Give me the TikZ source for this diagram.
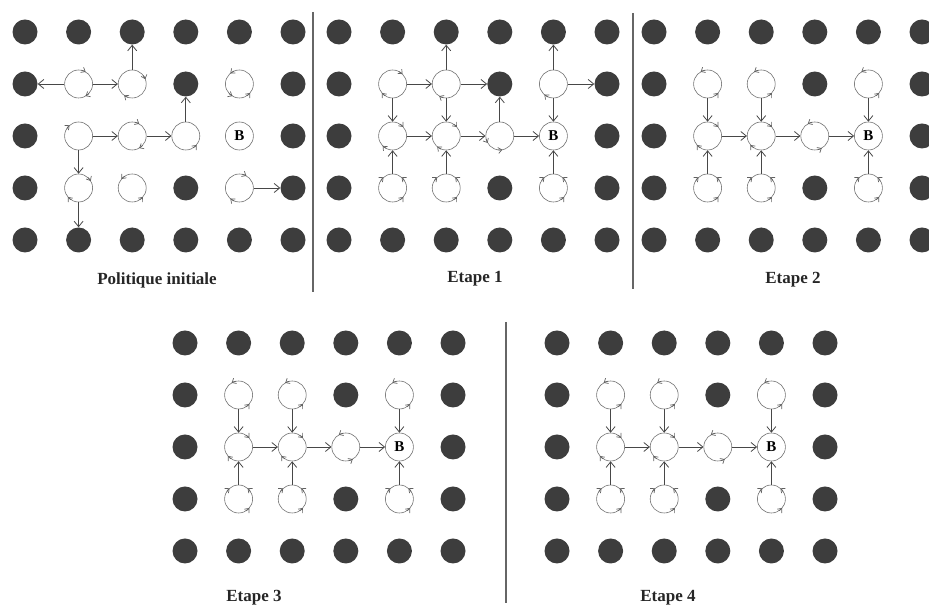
\documentclass[tikz,border=0pt]{standalone}
\usepackage{fontspec}
\setmainfont{Liberation Serif}
\usetikzlibrary{arrows.meta,positioning}

% one 6x5 grid: walls and free states, named <panel>-<col>-<row>
\newcommand{\grille}[3]{%
  \foreach \c/\r in {0/0,1/0,2/0,3/0,4/0,5/0,0/1,3/1,5/1,0/2,5/2,0/3,3/3,5/3,0/4,1/4,2/4,3/4,4/4,5/4}
    \node[mur] (#1-\c-\r) at ({#2+53.6*\c},{#3-52*\r}) {};
  \foreach \c/\r in {1/1,2/1,4/1,1/2,2/2,3/2,1/3,2/3,4/3}
    \node[etat] (#1-\c-\r) at ({#2+53.6*\c},{#3-52*\r}) {};
  \node[etat,font=\bfseries\fontsize{15}{15}\selectfont] (#1-4-2) at ({#2+53.6*4},{#3-52*2}) {B};
}
% small arrowhead running round a state circle
\newcommand{\tour}[3]{%
  \draw[boucle] ([shift={({#2#3 18}:14pt)}]#1.center) arc[start angle={#2#3 18}, end angle={#2}, radius=14pt];
}

\begin{document}
\begin{tikzpicture}[x=1pt,y=1pt,
  mur/.style={circle,fill=black!76,minimum size=25pt,inner sep=0pt},
  etat/.style={circle,draw=black!55,line width=0.6pt,fill=white,minimum size=28pt,inner sep=0pt},
  fl/.style={draw=black!72,line width=0.8pt,-{Straight Barb[length=5.5pt,width=9pt]}},
  boucle/.style={draw=black!62,line width=0.7pt,-{Straight Barb[length=3.5pt,width=6pt]}},
  titre/.style={font=\bfseries\fontsize{17}{20}\selectfont,text=black!85},
  sep/.style={draw=black!60,line width=1.2pt}]
\useasboundingbox (0,0) rectangle (929,609);

\grille{P}{25}{577}
\grille{E1}{339}{577}
\grille{E2}{654}{577}
\grille{E3}{185}{266}
\grille{E4}{557}{266}

% separators
\draw[sep] (313,597) -- (313,317);
\draw[sep] (633,596) -- (633,320);
\draw[sep] (506,287) -- (506,6);

% initial policy
\foreach \a/\b in {P-1-1/P-0-1,P-1-1/P-2-1,P-2-1/P-2-0,P-1-2/P-2-2,P-1-2/P-1-3,
    P-2-2/P-3-2,P-3-2/P-3-1,P-1-3/P-1-4,P-4-3/P-5-3}
  \draw[fl] (\a) -- (\b);
\foreach \n/\ang/\s in {P-1-1/60/+,P-1-1/-60/+,P-2-1/20/+,P-2-1/-125/+,P-4-1/130/-,P-4-1/-40/-,
    P-4-1/-120/-,P-1-2/130/+,P-2-2/60/+,P-2-2/-60/+,P-3-2/-40/-,P-1-3/30/+,P-1-3/-140/+,
    P-2-3/140/-,P-2-3/-40/-,P-4-3/60/+,P-4-3/-130/+}
  {\tour{\n}{\ang}{\s}}

% step 1
\foreach \a/\b in {1-1/2-1,1-1/1-2,2-1/2-0,2-1/3-1,2-1/2-2,4-1/4-0,4-1/5-1,4-1/4-2,
    1-2/2-2,2-2/3-2,3-2/3-1,3-2/4-2,1-3/1-2,2-3/2-2,4-3/4-2}
  \draw[fl] (E1-\a) -- (E1-\b);
\foreach \n/\ang/\s in {1-1/45/+,1-1/-140/+,2-1/-120/+,4-1/-130/+,1-2/40/+,1-2/-135/+,
    2-2/40/+,2-2/-130/+,3-2/-80/-,3-2/-150/-,1-3/130/+,1-3/50/-,1-3/-40/-,
    2-3/130/+,2-3/50/-,2-3/-40/-,4-3/130/+,4-3/50/-,4-3/-40/-}
  {\tour{E1-\n}{\ang}{\s}}

% steps 2, 3 and 4 give the same policy
\foreach \g in {E2,E3,E4}{
  \foreach \a/\b in {1-1/1-2,2-1/2-2,4-1/4-2,1-2/2-2,2-2/3-2,3-2/4-2,1-3/1-2,2-3/2-2,4-3/4-2}
    \draw[fl] (\g-\a) -- (\g-\b);
  \foreach \n/\ang/\s in {1-1/120/-,1-1/-40/-,2-1/120/-,2-1/-40/-,4-1/120/-,4-1/-40/-,
      1-2/40/+,1-2/-140/+,2-2/40/+,2-2/-140/+,3-2/120/-,3-2/-60/-,
      1-3/130/+,1-3/50/-,1-3/-40/-,2-3/130/+,2-3/50/-,2-3/-40/-,4-3/130/+,4-3/50/-,4-3/-40/-}
    {\tour{\g-\n}{\ang}{\s}}
}

\node[titre] (tP) at (157,329) {Politique initiale};
\node[titre] (t1) at (475,330) {Etape 1};
\node[titre] (t2) at (793,329) {Etape 2};
\node[titre] (t3) at (254,11) {Etape 3};
\node[titre] (t4) at (668,11) {Etape 4};
\end{tikzpicture}
\end{document}
